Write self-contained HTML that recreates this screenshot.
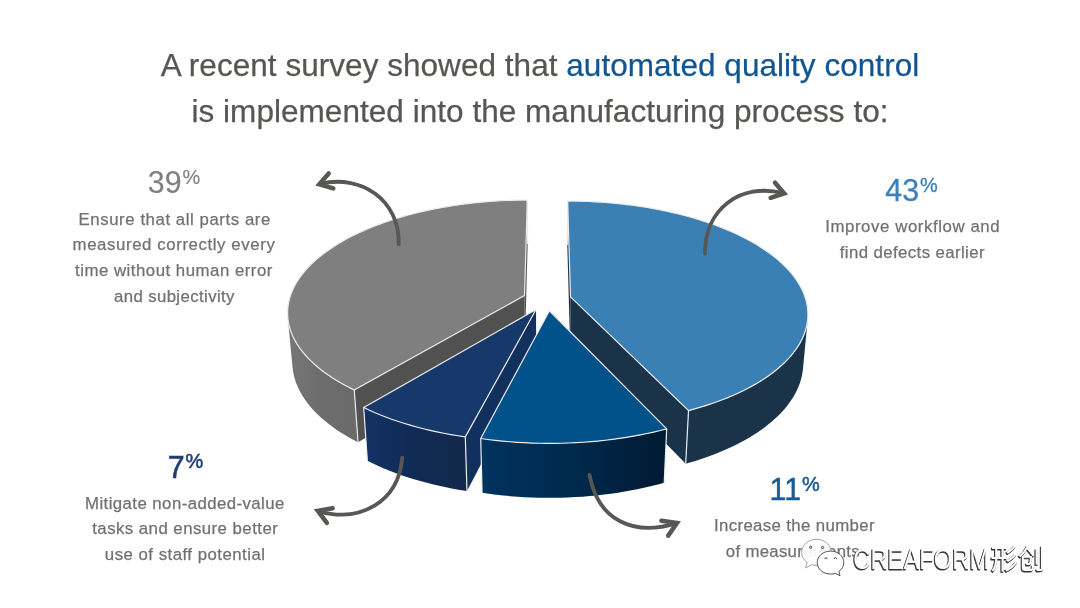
<!DOCTYPE html>
<html><head><meta charset="utf-8">
<style>
html,body{margin:0;padding:0;background:#fff;}
body{width:1080px;height:608px;position:relative;overflow:hidden;font-family:"Liberation Sans",Arial,sans-serif;}
.t{position:absolute;white-space:nowrap;will-change:transform;}
.title{left:0;width:1080px;text-align:center;font-size:31.5px;color:#565652;-webkit-text-stroke:0.25px currentColor;letter-spacing:0.04px;}
svg{position:absolute;left:0;top:0;will-change:transform;}
svg text{font-family:"Liberation Sans",Arial,sans-serif;}
.pct{font-size:30px;}
.sup{font-size:20px;}
.lab{font-size:16.8px;fill:#717170;stroke:#717170;stroke-width:0.25px;}
.arr{fill:none;stroke:#575753;stroke-width:3.8;stroke-linecap:round;stroke-linejoin:round;}
.arh{fill:none;stroke:#575753;stroke-width:4.5;stroke-linecap:round;stroke-linejoin:miter;stroke-miterlimit:10;}
.wm text{font-family:"Liberation Sans","Noto Sans CJK SC",sans-serif;}
</style></head><body>
<svg width="1080" height="608" viewBox="0 0 1080 608">
<defs>
<linearGradient id="g_gray" gradientUnits="userSpaceOnUse" x1="287.8" y1="0" x2="358.1" y2="0"><stop offset="0" stop-color="#777777"/><stop offset="0.5" stop-color="#6c6c6c"/><stop offset="1" stop-color="#6b6b6b"/></linearGradient>
<linearGradient id="g_blue" gradientUnits="userSpaceOnUse" x1="685.7" y1="0" x2="807.7" y2="0"><stop offset="0" stop-color="#1a3349"/><stop offset="1" stop-color="#1a3349"/></linearGradient>
<linearGradient id="g_navy" gradientUnits="userSpaceOnUse" x1="363.7" y1="0" x2="467.0" y2="0"><stop offset="0" stop-color="#133264"/><stop offset="0.5" stop-color="#0f2a55"/><stop offset="1" stop-color="#13294b"/></linearGradient>
<linearGradient id="g_dk" gradientUnits="userSpaceOnUse" x1="480.7" y1="0" x2="666.7" y2="0"><stop offset="0" stop-color="#003360"/><stop offset="0.5" stop-color="#00294c"/><stop offset="1" stop-color="#001a33"/></linearGradient>
</defs>
<path d="M354.26,389.93 L349.38,387.52 L344.66,385.04 L340.13,382.51 L335.77,379.92 L331.59,377.27 L327.59,374.58 L323.78,371.84 L320.16,369.06 L316.73,366.23 L313.48,363.37 L310.43,360.47 L307.57,357.55 L304.90,354.59 L302.42,351.61 L300.14,348.60 L298.05,345.58 L296.15,342.53 L294.45,339.48 L292.94,336.41 L291.61,333.34 L290.48,330.26 L289.54,327.17 L288.78,324.09 L288.21,321.00 L287.82,317.93 L292.51,367.33 L292.90,370.54 L293.48,373.76 L294.24,376.97 L295.19,380.19 L296.32,383.40 L297.63,386.61 L299.14,389.80 L300.83,392.99 L302.71,396.16 L304.77,399.31 L307.03,402.44 L309.47,405.55 L312.11,408.63 L314.93,411.67 L317.94,414.69 L321.14,417.67 L324.52,420.61 L328.09,423.51 L331.84,426.36 L335.77,429.16 L339.88,431.91 L344.17,434.60 L348.63,437.24 L353.26,439.81 L358.06,442.32Z" fill="url(#g_gray)"/>
<path d="M524.55,295.56 L354.26,389.93 L358.06,442.32 L524.95,343.99Z" fill="#515151"/>
<path d="M524.55,295.56 L527.35,200.02 L527.66,244.00 L524.95,343.99Z" fill="#515151"/>
<path d="M524.55,295.56 L354.26,389.93 L349.52,387.59 L344.94,385.19 L340.53,382.74 L336.28,380.23 L332.21,377.67 L328.30,375.07 L324.57,372.42 L321.01,369.73 L317.64,367.00 L314.44,364.23 L311.42,361.43 L308.58,358.60 L305.92,355.75 L303.44,352.86 L301.14,349.96 L299.03,347.03 L297.10,344.09 L295.35,341.13 L293.78,338.16 L292.38,335.18 L291.17,332.20 L290.14,329.21 L289.28,326.22 L288.60,323.22 L288.09,320.24 L287.76,317.25 L287.60,314.27 L287.60,311.30 L287.77,308.35 L288.11,305.40 L288.61,302.48 L289.28,299.56 L290.10,296.67 L291.07,293.80 L292.20,290.95 L293.48,288.13 L294.92,285.33 L296.49,282.55 L298.21,279.81 L300.08,277.10 L302.08,274.42 L304.21,271.77 L306.48,269.16 L308.88,266.58 L311.40,264.04 L314.05,261.54 L316.82,259.08 L319.71,256.66 L322.72,254.28 L325.83,251.94 L329.06,249.65 L332.40,247.39 L335.83,245.19 L339.37,243.03 L343.01,240.92 L346.75,238.85 L350.57,236.84 L354.49,234.87 L358.49,232.95 L362.58,231.08 L366.75,229.26 L371.00,227.50 L375.32,225.78 L379.72,224.12 L384.18,222.51 L388.72,220.95 L393.32,219.45 L397.98,218.00 L402.70,216.60 L407.48,215.26 L412.31,213.98 L417.20,212.75 L422.13,211.57 L427.12,210.45 L432.14,209.39 L437.21,208.38 L442.32,207.43 L447.46,206.54 L452.64,205.70 L457.84,204.92 L463.08,204.20 L468.35,203.53 L473.64,202.92 L478.95,202.37 L484.28,201.88 L489.63,201.45 L494.99,201.07 L500.37,200.75 L505.75,200.49 L511.15,200.29 L516.55,200.14 L521.95,200.05 L527.35,200.02Z" fill="#7f7f7f" stroke="#ececec" stroke-width="1.2" stroke-linejoin="round"/>
<path d="M354.26,389.93 L358.06,442.32" stroke="#ececec" stroke-width="1.2" fill="none"/>
<path d="M527.35,200.02 L527.66,244.00" stroke="#ececec" stroke-width="1.2" fill="none"/>
<path d="M807.69,319.42 L807.31,322.44 L806.76,325.47 L806.03,328.49 L805.12,331.52 L804.03,334.55 L802.76,337.57 L801.30,340.58 L799.66,343.58 L797.84,346.57 L795.83,349.54 L793.64,352.49 L791.26,355.43 L788.70,358.34 L785.95,361.22 L783.02,364.07 L779.91,366.89 L776.61,369.68 L773.13,372.43 L769.47,375.14 L765.64,377.80 L761.62,380.42 L757.43,382.98 L753.07,385.50 L748.54,387.96 L743.85,390.36 L738.99,392.70 L733.97,394.97 L728.79,397.18 L723.46,399.32 L717.99,401.39 L712.37,403.39 L706.61,405.31 L700.71,407.14 L694.69,408.90 L688.54,410.57 L685.69,463.78 L691.72,462.04 L697.63,460.22 L703.41,458.30 L709.06,456.31 L714.58,454.24 L719.96,452.09 L725.19,449.86 L730.27,447.57 L735.20,445.20 L739.97,442.77 L744.59,440.27 L749.04,437.71 L753.33,435.10 L757.44,432.43 L761.39,429.71 L765.17,426.94 L768.77,424.12 L772.20,421.26 L775.45,418.36 L778.52,415.42 L781.41,412.45 L784.12,409.45 L786.65,406.42 L788.99,403.36 L791.16,400.29 L793.15,397.19 L794.95,394.08 L796.58,390.95 L798.02,387.81 L799.29,384.66 L800.38,381.51 L801.29,378.35 L802.02,375.19 L802.58,372.04 L802.97,368.89Z" fill="url(#g_blue)"/>
<path d="M570.51,296.91 L567.60,201.06 L567.28,245.09 L570.10,345.40Z" fill="#1a3349"/>
<path d="M570.51,296.91 L688.54,410.57 L685.69,463.78 L570.10,345.40Z" fill="#1a3349"/>
<path d="M570.51,296.91 L567.60,201.06 L572.98,201.09 L578.37,201.17 L583.75,201.32 L589.13,201.52 L594.50,201.78 L599.86,202.10 L605.21,202.47 L610.54,202.91 L615.86,203.39 L621.16,203.94 L626.43,204.55 L631.69,205.21 L636.91,205.93 L642.11,206.70 L647.27,207.53 L652.40,208.42 L657.50,209.37 L662.56,210.37 L667.57,211.43 L672.55,212.54 L677.47,213.71 L682.35,214.93 L687.18,216.21 L691.95,217.54 L696.66,218.93 L701.32,220.37 L705.92,221.87 L710.45,223.41 L714.92,225.01 L719.31,226.67 L723.64,228.37 L727.88,230.13 L732.06,231.94 L736.15,233.80 L740.15,235.71 L744.08,237.66 L747.91,239.67 L751.65,241.73 L755.30,243.83 L758.85,245.98 L762.30,248.17 L765.65,250.41 L768.89,252.69 L772.03,255.02 L775.05,257.39 L777.96,259.80 L780.75,262.25 L783.42,264.74 L785.97,267.27 L788.39,269.83 L790.69,272.44 L792.85,275.07 L794.88,277.74 L796.78,280.44 L798.53,283.18 L800.15,285.94 L801.62,288.73 L802.94,291.54 L804.11,294.38 L805.13,297.25 L806.00,300.13 L806.70,303.03 L807.25,305.96 L807.64,308.89 L807.87,311.84 L807.93,314.81 L807.82,317.78 L807.54,320.76 L807.09,323.74 L806.47,326.73 L805.68,329.72 L804.71,332.71 L803.57,335.70 L802.24,338.67 L800.74,341.64 L799.06,344.60 L797.20,347.55 L795.16,350.48 L792.94,353.39 L790.54,356.28 L787.95,359.14 L785.19,361.98 L782.25,364.79 L779.13,367.57 L775.83,370.31 L772.36,373.02 L768.71,375.68 L764.89,378.30 L760.89,380.88 L756.73,383.40 L752.39,385.87 L747.90,388.29 L743.24,390.66 L738.42,392.96 L733.45,395.20 L728.33,397.38 L723.05,399.48 L717.64,401.52 L712.08,403.49 L706.38,405.38 L700.56,407.19 L694.61,408.92 L688.54,410.57Z" fill="#3b80b4" stroke="#ececec" stroke-width="1.2" stroke-linejoin="round"/>
<path d="M567.60,201.06 L567.28,245.09" stroke="#ececec" stroke-width="1.2" fill="none"/>
<path d="M688.54,410.57 L685.69,463.78" stroke="#ececec" stroke-width="1.2" fill="none"/>
<path d="M465.30,436.88 L458.06,435.78 L450.90,434.58 L443.84,433.26 L436.88,431.85 L430.03,430.33 L423.29,428.71 L416.68,426.99 L410.20,425.18 L403.85,423.27 L397.64,421.28 L391.58,419.20 L385.68,417.03 L379.93,414.78 L374.34,412.46 L368.93,410.06 L363.68,407.58 L367.36,460.67 L372.51,463.24 L377.83,465.74 L383.31,468.15 L388.95,470.49 L394.75,472.74 L400.69,474.90 L406.78,476.97 L413.00,478.95 L419.36,480.83 L425.84,482.61 L432.44,484.29 L439.15,485.87 L445.97,487.34 L452.89,488.70 L459.90,489.95 L467.00,491.09Z" fill="url(#g_navy)"/>
<path d="M536.02,309.54 L465.30,436.88 L467.00,491.09 L536.22,358.58Z" fill="#12305d"/>
<path d="M536.02,309.54 L465.30,436.88 L458.06,435.78 L450.90,434.58 L443.84,433.26 L436.88,431.85 L430.03,430.33 L423.29,428.71 L416.68,426.99 L410.20,425.18 L403.85,423.27 L397.64,421.28 L391.58,419.20 L385.68,417.03 L379.93,414.78 L374.34,412.46 L368.93,410.06 L363.68,407.58Z" fill="#17386b" stroke="#ececec" stroke-width="1.2" stroke-linejoin="round"/>
<path d="M363.68,407.58 L367.36,460.67" stroke="#ececec" stroke-width="1.2" fill="none"/>
<path d="M465.30,436.88 L467.00,491.09" stroke="#ececec" stroke-width="1.2" fill="none"/>
<path d="M666.68,428.85 L660.24,430.50 L653.69,432.06 L647.03,433.53 L640.27,434.90 L633.41,436.18 L626.47,437.36 L619.44,438.43 L612.35,439.40 L605.18,440.27 L597.96,441.03 L590.69,441.69 L583.37,442.24 L576.02,442.68 L568.64,443.01 L561.24,443.24 L553.82,443.35 L546.41,443.36 L538.99,443.25 L531.59,443.04 L524.20,442.71 L516.84,442.28 L509.52,441.74 L502.24,441.10 L495.01,440.34 L487.83,439.48 L480.73,438.52 L482.10,492.79 L489.07,493.79 L496.09,494.68 L503.17,495.46 L510.30,496.13 L517.47,496.69 L524.68,497.14 L531.91,497.48 L539.16,497.70 L546.42,497.81 L553.68,497.80 L560.94,497.68 L568.19,497.45 L575.42,497.11 L582.62,496.65 L589.78,496.08 L596.90,495.40 L603.98,494.61 L610.99,493.71 L617.94,492.70 L624.82,491.58 L631.62,490.36 L638.34,489.04 L644.96,487.61 L651.49,486.09 L657.91,484.47 L664.22,482.75Z" fill="url(#g_dk)"/>
<path d="M549.39,310.75 L666.68,428.85 L660.24,430.50 L653.69,432.06 L647.03,433.53 L640.27,434.90 L633.41,436.18 L626.47,437.36 L619.44,438.43 L612.35,439.40 L605.18,440.27 L597.96,441.03 L590.69,441.69 L583.37,442.24 L576.02,442.68 L568.64,443.01 L561.24,443.24 L553.82,443.35 L546.41,443.36 L538.99,443.25 L531.59,443.04 L524.20,442.71 L516.84,442.28 L509.52,441.74 L502.24,441.10 L495.01,440.34 L487.83,439.48 L480.73,438.52Z" fill="#01518b" stroke="#ececec" stroke-width="1.2" stroke-linejoin="round"/>
<path d="M480.73,438.52 L482.10,492.79" stroke="#ececec" stroke-width="1.2" fill="none"/>
<path d="M666.68,428.85 L664.22,482.75" stroke="#ececec" stroke-width="1.2" fill="none"/>
<g class="labels">
<text transform="translate(174.0,193.3) scale(0.95,1)" text-anchor="middle" fill="#7f7f7f" stroke="#7f7f7f" stroke-width="0.15" style="font-size:32.0px">39<tspan style="font-size:21px" dx="1" dy="-9.3">%</tspan></text>
<text transform="translate(911.6,201.1) scale(0.95,1)" text-anchor="middle" fill="#3a80bd" stroke="#3a80bd" stroke-width="0.3" style="font-size:32.0px">43<tspan style="font-size:21px" dx="1" dy="-9.3">%</tspan></text>
<text transform="translate(185.5,477.5) scale(0.95,1)" text-anchor="middle" fill="#1f3f73" stroke="#1f3f73" stroke-width="0.6" style="font-size:32.0px">7<tspan style="font-size:21px" dx="1" dy="-9.3">%</tspan></text>
<text transform="translate(794.7,499.8) scale(0.95,1)" text-anchor="middle" fill="#1a5a94" stroke="#1a5a94" stroke-width="0.5" style="font-size:32.0px">11<tspan style="font-size:21px" dx="1" dy="-9.3">%</tspan></text>
<text class="lab" id="E1" x="174.45" y="224.6" text-anchor="middle" textLength="191.67" lengthAdjust="spacing">Ensure that all parts are</text>
<text class="lab" id="E2" x="173.70" y="250.3" text-anchor="middle" textLength="202.19" lengthAdjust="spacing">measured correctly every</text>
<text class="lab" id="E3" x="173.70" y="276.0" text-anchor="middle" textLength="197.41" lengthAdjust="spacing">time without human error</text>
<text class="lab" id="E4" x="174.20" y="301.8" text-anchor="middle" textLength="120.53" lengthAdjust="spacing">and subjectivity</text>
<text class="lab" id="I1" x="912.40" y="231.7" text-anchor="middle" textLength="174.42" lengthAdjust="spacing">Improve workflow and</text>
<text class="lab" id="I2" x="912.15" y="257.6" text-anchor="middle" textLength="144.83" lengthAdjust="spacing">find defects earlier</text>
<text class="lab" id="M1" x="184.70" y="508.7" text-anchor="middle" textLength="199.39" lengthAdjust="spacing">Mitigate non-added-value</text>
<text class="lab" id="M2" x="185.00" y="534.4" text-anchor="middle" textLength="185.59" lengthAdjust="spacing">tasks and ensure better</text>
<text class="lab" id="M3" x="184.95" y="559.9" text-anchor="middle" textLength="160.21" lengthAdjust="spacing">use of staff potential</text>
<text class="lab" id="N1" x="794.25" y="530.7" text-anchor="middle" textLength="160.62" lengthAdjust="spacing">Increase the number</text>
<text class="lab" id="N2" x="792.75" y="556.7" text-anchor="middle" textLength="133.86" lengthAdjust="spacing">of measurements</text>
</g>
<g class="arrows">
<path class="arr" d="M398.7,244.3 C400.0,199.3 360.2,173.8 320.2,184.0"/>
<path class="arh" d="M328.7,173.5 L319.3,184.3 L333.3,188.4"/>
<path class="arr" d="M705.0,253.7 C704.7,208.5 740.7,182.3 783.3,193.2"/>
<path class="arh" d="M775.0,182.7 L784.2,193.5 L770.6,197.8"/>
<path class="arr" d="M402.2,457.7 C398.5,502.7 360.0,522.9 318.7,511.3"/>
<path class="arh" d="M332.7,508.2 L317.8,510.9 L326.9,522.9"/>
<path class="arr" d="M589.5,474.8 C598.2,521.0 633.7,536.4 676.1,523.4"/>
<path class="arh" d="M661.4,520.7 L677.0,523.0 L668.2,535.6"/>
</g>
<g class="wm-icon">
<path fill="rgba(255,255,255,0.93)" stroke="#9a9a9a" stroke-width="0.9" d="M816.5,539.3 C808.2,539.3 801.6,545.4 801.6,552.6 C801.6,556.6 803.8,560.1 807.2,562.5 L805.5,567.9 L811.6,564.7 C813.2,565.1 814.8,565.4 816.5,565.4 C824.8,565.4 831.3,559.6 831.3,552.6 C831.3,545.4 824.8,539.3 816.5,539.3 Z"/>
<circle cx="810.7" cy="547.3" r="1.1" fill="none" stroke="#3a3a3a" stroke-width="1"/>
<circle cx="822.6" cy="547.5" r="1.1" fill="none" stroke="#3a3a3a" stroke-width="1"/>
<path fill="#ffffff" stroke="#505050" stroke-width="1" d="M830.5,551.1 C823,551.1 817.2,556.3 817.2,562.6 C817.2,568.9 823,574.1 830.5,574.1 C832.2,574.1 833.9,573.8 835.4,573.3 L840,575.7 L838.9,571.4 C841.9,569.3 843.8,566.2 843.8,562.6 C843.8,556.3 838,551.1 830.5,551.1 Z"/>
<path d="M824.7,559.1 a1.3,1.3 0 0 1 2.6,0 M834.1,558.9 a1.3,1.3 0 0 1 2.6,0" fill="none" stroke="#3a3a3a" stroke-width="0.9"/>
</g>
<g class="wm" fill="#333" stroke="#333" stroke-width="0.9" stroke-linejoin="round" transform="translate(-0.8,0.9)">
<text x="853.3" y="568.9" style="font-size:29px" textLength="136" lengthAdjust="spacingAndGlyphs">CREAFORM</text>
<text x="990.6" y="569.2" style="font-size:27.5px">形创</text>
</g>
<g class="wm" fill="#fff">
<text x="853.3" y="568.9" style="font-size:29px" textLength="136" lengthAdjust="spacingAndGlyphs">CREAFORM</text>
<text x="990.6" y="569.2" style="font-size:27.5px">形创</text>
</g>
</svg>
<div class="t title" style="top:47px;">A recent survey showed that <span style="color:#115592">automated quality control</span></div>
<div class="t title" style="top:93px;">is implemented into the manufacturing process to:</div>
</body></html>
